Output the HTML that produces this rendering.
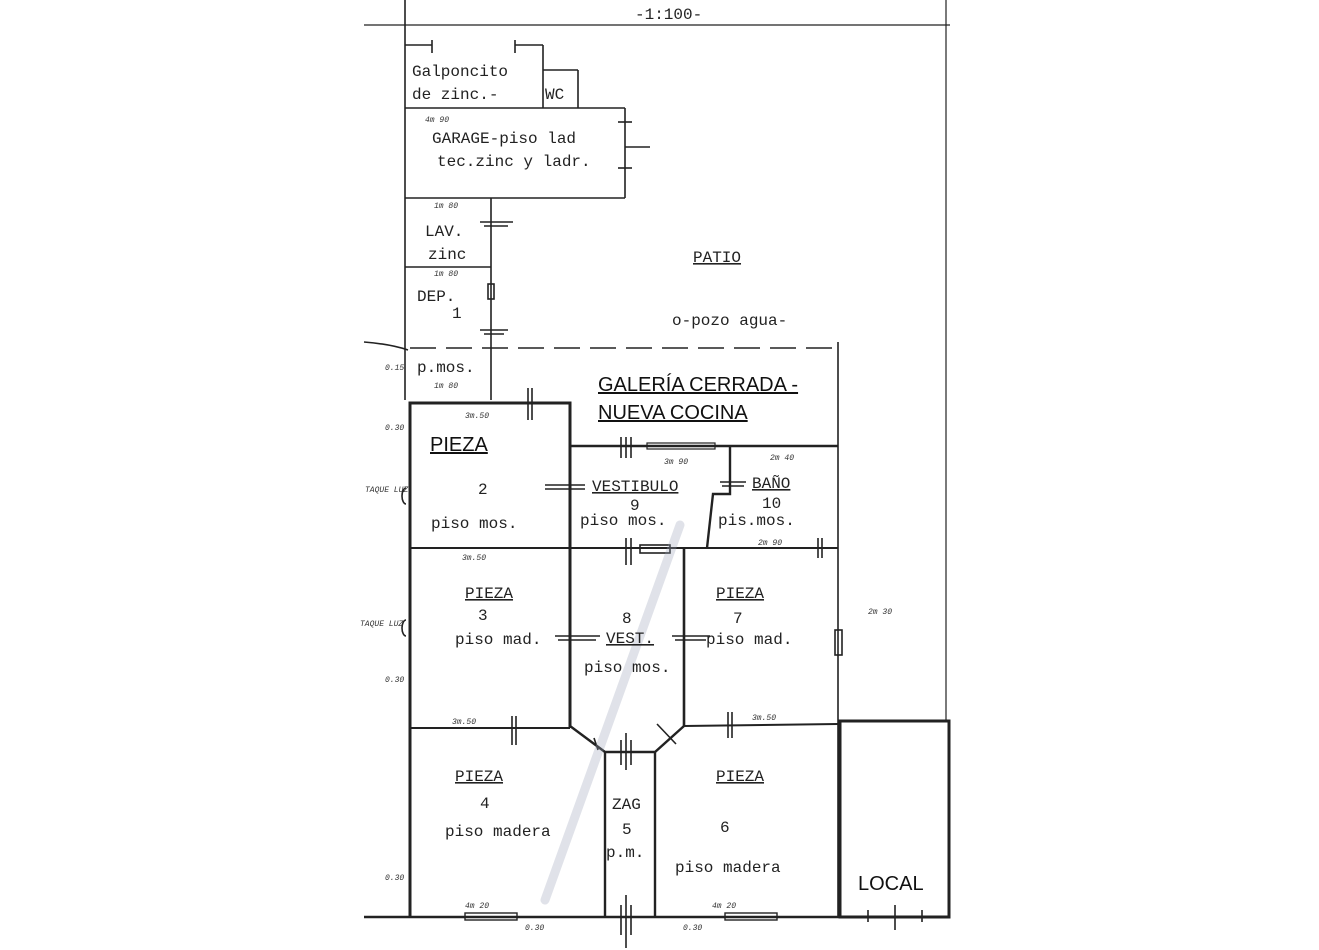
<!DOCTYPE html>
<html><head><meta charset="utf-8"><style>
html,body{margin:0;padding:0;background:#fff;}
svg{display:block;}
.m{font-family:"Liberation Mono",monospace;font-size:16px;fill:#222;}
.s{font-family:"Liberation Sans",sans-serif;font-size:20px;fill:#111;}
.h{font-family:"Liberation Mono",monospace;font-size:8px;fill:#333;font-style:italic;}
</style></head><body>
<svg width="1319" height="950" viewBox="0 0 1319 950" xmlns="http://www.w3.org/2000/svg">
<rect width="1319" height="950" fill="#fff"/>
<g stroke="#222" fill="none" stroke-width="1.6">
<line x1="364" y1="25" x2="950" y2="25" stroke-width="1.2"/>
<line x1="405" y1="0" x2="405" y2="400"/>
<line x1="946" y1="0" x2="946" y2="720" stroke-width="1.2"/>
<line x1="405" y1="45" x2="432" y2="45"/><line x1="432" y1="40" x2="432" y2="53"/>
<line x1="515" y1="40" x2="515" y2="53"/><line x1="515" y1="45" x2="543" y2="45"/>
<line x1="543" y1="45" x2="543" y2="108"/>
<line x1="543" y1="70" x2="578" y2="70"/><line x1="578" y1="70" x2="578" y2="108"/>
<line x1="405" y1="108" x2="625" y2="108"/>
<line x1="625" y1="108" x2="625" y2="198"/>
<line x1="618" y1="122" x2="632" y2="122"/><line x1="618" y1="168" x2="632" y2="168"/>
<line x1="625" y1="147" x2="650" y2="147"/>
<line x1="405" y1="198" x2="625" y2="198"/>
<line x1="491" y1="198" x2="491" y2="400"/>
<line x1="405" y1="267" x2="491" y2="267"/>
<line x1="480" y1="222" x2="513" y2="222"/><line x1="484" y1="226" x2="508" y2="226"/>
<rect x="488" y="284" width="6" height="15"/>
<line x1="480" y1="330" x2="508" y2="330"/><line x1="484" y1="334" x2="504" y2="334"/>
<line x1="410" y1="348" x2="838" y2="348" stroke-dasharray="26,10"/>
<line x1="838" y1="342" x2="838" y2="917"/>
<path d="M364 342 Q390 344 408 350"/>
<!-- room 2 -->
<path d="M410 917 L410 403 L570 403 L570 728" stroke-width="3"/>
<line x1="528" y1="388" x2="528" y2="420"/><line x1="532" y1="388" x2="532" y2="420"/>
<line x1="570" y1="446" x2="838" y2="446" stroke-width="2.4"/>
<line x1="621" y1="437" x2="621" y2="458"/><line x1="626" y1="437" x2="626" y2="458"/><line x1="631" y1="437" x2="631" y2="458"/>
<rect x="647" y="443" width="68" height="6" stroke-width="1.2"/>
<path d="M730 446 L730 494 L713 494 L707 548" stroke-width="2.4"/>
<line x1="720" y1="482" x2="746" y2="482"/><line x1="722" y1="486" x2="744" y2="486"/>
<line x1="545" y1="485" x2="585" y2="485"/><line x1="545" y1="489" x2="585" y2="489"/>
<line x1="410" y1="548" x2="838" y2="548" stroke-width="2"/>
<line x1="818" y1="538" x2="818" y2="558"/><line x1="822" y1="538" x2="822" y2="558"/>
<line x1="626" y1="538" x2="626" y2="565"/><line x1="631" y1="538" x2="631" y2="565"/>
<rect x="640" y="545" width="30" height="8"/>
<line x1="684" y1="548" x2="684" y2="726" stroke-width="2.6"/>
<line x1="555" y1="636" x2="600" y2="636"/><line x1="558" y1="640" x2="596" y2="640"/>
<line x1="672" y1="636" x2="710" y2="636"/><line x1="675" y1="640" x2="706" y2="640"/>
<rect x="835" y="630" width="7" height="25"/>
<path d="M406 488 a4 8 0 0 0 0 16 M406 620 a4 8 0 0 0 0 16"/>
<line x1="410" y1="728" x2="570" y2="728" stroke-width="2"/>
<line x1="684" y1="726" x2="838" y2="724" stroke-width="2"/>
<line x1="512" y1="716" x2="512" y2="745"/><line x1="516" y1="716" x2="516" y2="745"/>
<line x1="728" y1="712" x2="728" y2="738"/><line x1="732" y1="712" x2="732" y2="738"/>
<path d="M570 726 L605 752 L655 752 L684 726" stroke-width="2.4"/>
<line x1="594" y1="738" x2="598" y2="750"/><line x1="657" y1="724" x2="676" y2="744"/>
<line x1="621" y1="740" x2="621" y2="765"/><line x1="626" y1="733" x2="626" y2="770"/><line x1="631" y1="740" x2="631" y2="765"/>
<line x1="605" y1="752" x2="605" y2="917" stroke-width="2.4"/>
<line x1="655" y1="752" x2="655" y2="917" stroke-width="2.4"/>
<line x1="364" y1="917" x2="840" y2="917" stroke-width="2.6"/>
<rect x="465" y="913" width="52" height="7" stroke-width="1.4"/>
<rect x="725" y="913" width="52" height="7" stroke-width="1.4"/>
<line x1="621" y1="905" x2="621" y2="935"/><line x1="626" y1="895" x2="626" y2="948"/><line x1="631" y1="905" x2="631" y2="935"/>
<rect x="840" y="721" width="109" height="196" stroke-width="3"/>
<line x1="868" y1="910" x2="868" y2="922"/><line x1="895" y1="905" x2="895" y2="930"/><line x1="922" y1="910" x2="922" y2="922"/>
</g>
<g stroke="#9aa3b8" stroke-width="9" opacity="0.3" stroke-linecap="round">
<line x1="680" y1="525" x2="545" y2="900"/>
</g>
<g>
<text class="m" x="635" y="19">-1:100-</text>
<text class="m" x="412" y="76">Galponcito</text>
<text class="m" x="412" y="99">de zinc.-</text>
<text class="m" x="545" y="99">WC</text>
<text class="m" x="432" y="143">GARAGE-piso lad</text>
<text class="m" x="437" y="166">tec.zinc y ladr.</text>
<text class="m" x="425" y="236">LAV.</text>
<text class="m" x="428" y="259">zinc</text>
<text class="m" x="417" y="301">DEP.</text>
<text class="m" x="452" y="318">1</text>
<text class="m" x="417" y="372">p.mos.</text>
<text class="m" x="693" y="262" text-decoration="underline">PATIO</text>
<text class="m" x="672" y="325">o-pozo agua-</text>
<text class="s" x="598" y="391" font-size="18" text-decoration="underline">GALERÍA CERRADA -</text>
<text class="s" x="598" y="419" font-size="18" text-decoration="underline">NUEVA COCINA</text>
<text class="s" x="430" y="451" font-size="19" text-decoration="underline">PIEZA</text>
<text class="m" x="478" y="494">2</text>
<text class="m" x="431" y="528">piso mos.</text>
<text class="m" x="592" y="491" text-decoration="underline">VESTIBULO</text>
<text class="m" x="630" y="510">9</text>
<text class="m" x="580" y="525">piso mos.</text>
<text class="m" x="752" y="488" text-decoration="underline">BAÑO</text>
<text class="m" x="762" y="508">10</text>
<text class="m" x="718" y="525">pis.mos.</text>
<text class="m" x="465" y="598" text-decoration="underline">PIEZA</text>
<text class="m" x="478" y="620">3</text>
<text class="m" x="455" y="644">piso mad.</text>
<text class="m" x="622" y="623">8</text>
<text class="m" x="606" y="643" text-decoration="underline">VEST.</text>
<text class="m" x="584" y="672">piso mos.</text>
<text class="m" x="716" y="598" text-decoration="underline">PIEZA</text>
<text class="m" x="733" y="623">7</text>
<text class="m" x="706" y="644">piso mad.</text>
<text class="m" x="455" y="781" text-decoration="underline">PIEZA</text>
<text class="m" x="480" y="808">4</text>
<text class="m" x="445" y="836">piso madera</text>
<text class="m" x="612" y="809">ZAG</text>
<text class="m" x="622" y="834">5</text>
<text class="m" x="606" y="857">p.m.</text>
<text class="m" x="716" y="781" text-decoration="underline">PIEZA</text>
<text class="m" x="720" y="832">6</text>
<text class="m" x="675" y="872">piso madera</text>
<text class="s" x="858" y="890" font-size="23">LOCAL</text>
<text class="h" x="425" y="122">4m 90</text>
<text class="h" x="434" y="208">1m 80</text>
<text class="h" x="434" y="276">1m 80</text>
<text class="h" x="434" y="388">1m 80</text>
<text class="h" x="465" y="418">3m.50</text>
<text class="h" x="462" y="560">3m.50</text>
<text class="h" x="452" y="724">3m.50</text>
<text class="h" x="752" y="720">3m.50</text>
<text class="h" x="664" y="464">3m 90</text>
<text class="h" x="770" y="460">2m 40</text>
<text class="h" x="758" y="545">2m 90</text>
<text class="h" x="868" y="614">2m 30</text>
<text class="h" x="465" y="908">4m 20</text>
<text class="h" x="712" y="908">4m 20</text>
<text class="h" x="385" y="370">0.15</text>
<text class="h" x="385" y="430">0.30</text>
<text class="h" x="385" y="682">0.30</text>
<text class="h" x="385" y="880">0.30</text>
<text class="h" x="525" y="930">0.30</text>
<text class="h" x="683" y="930">0.30</text>
<text class="h" x="365" y="492">TAQUE LUZ</text>
<text class="h" x="360" y="626">TAQUE LUZ</text>
</g>
</svg>
</body></html>
